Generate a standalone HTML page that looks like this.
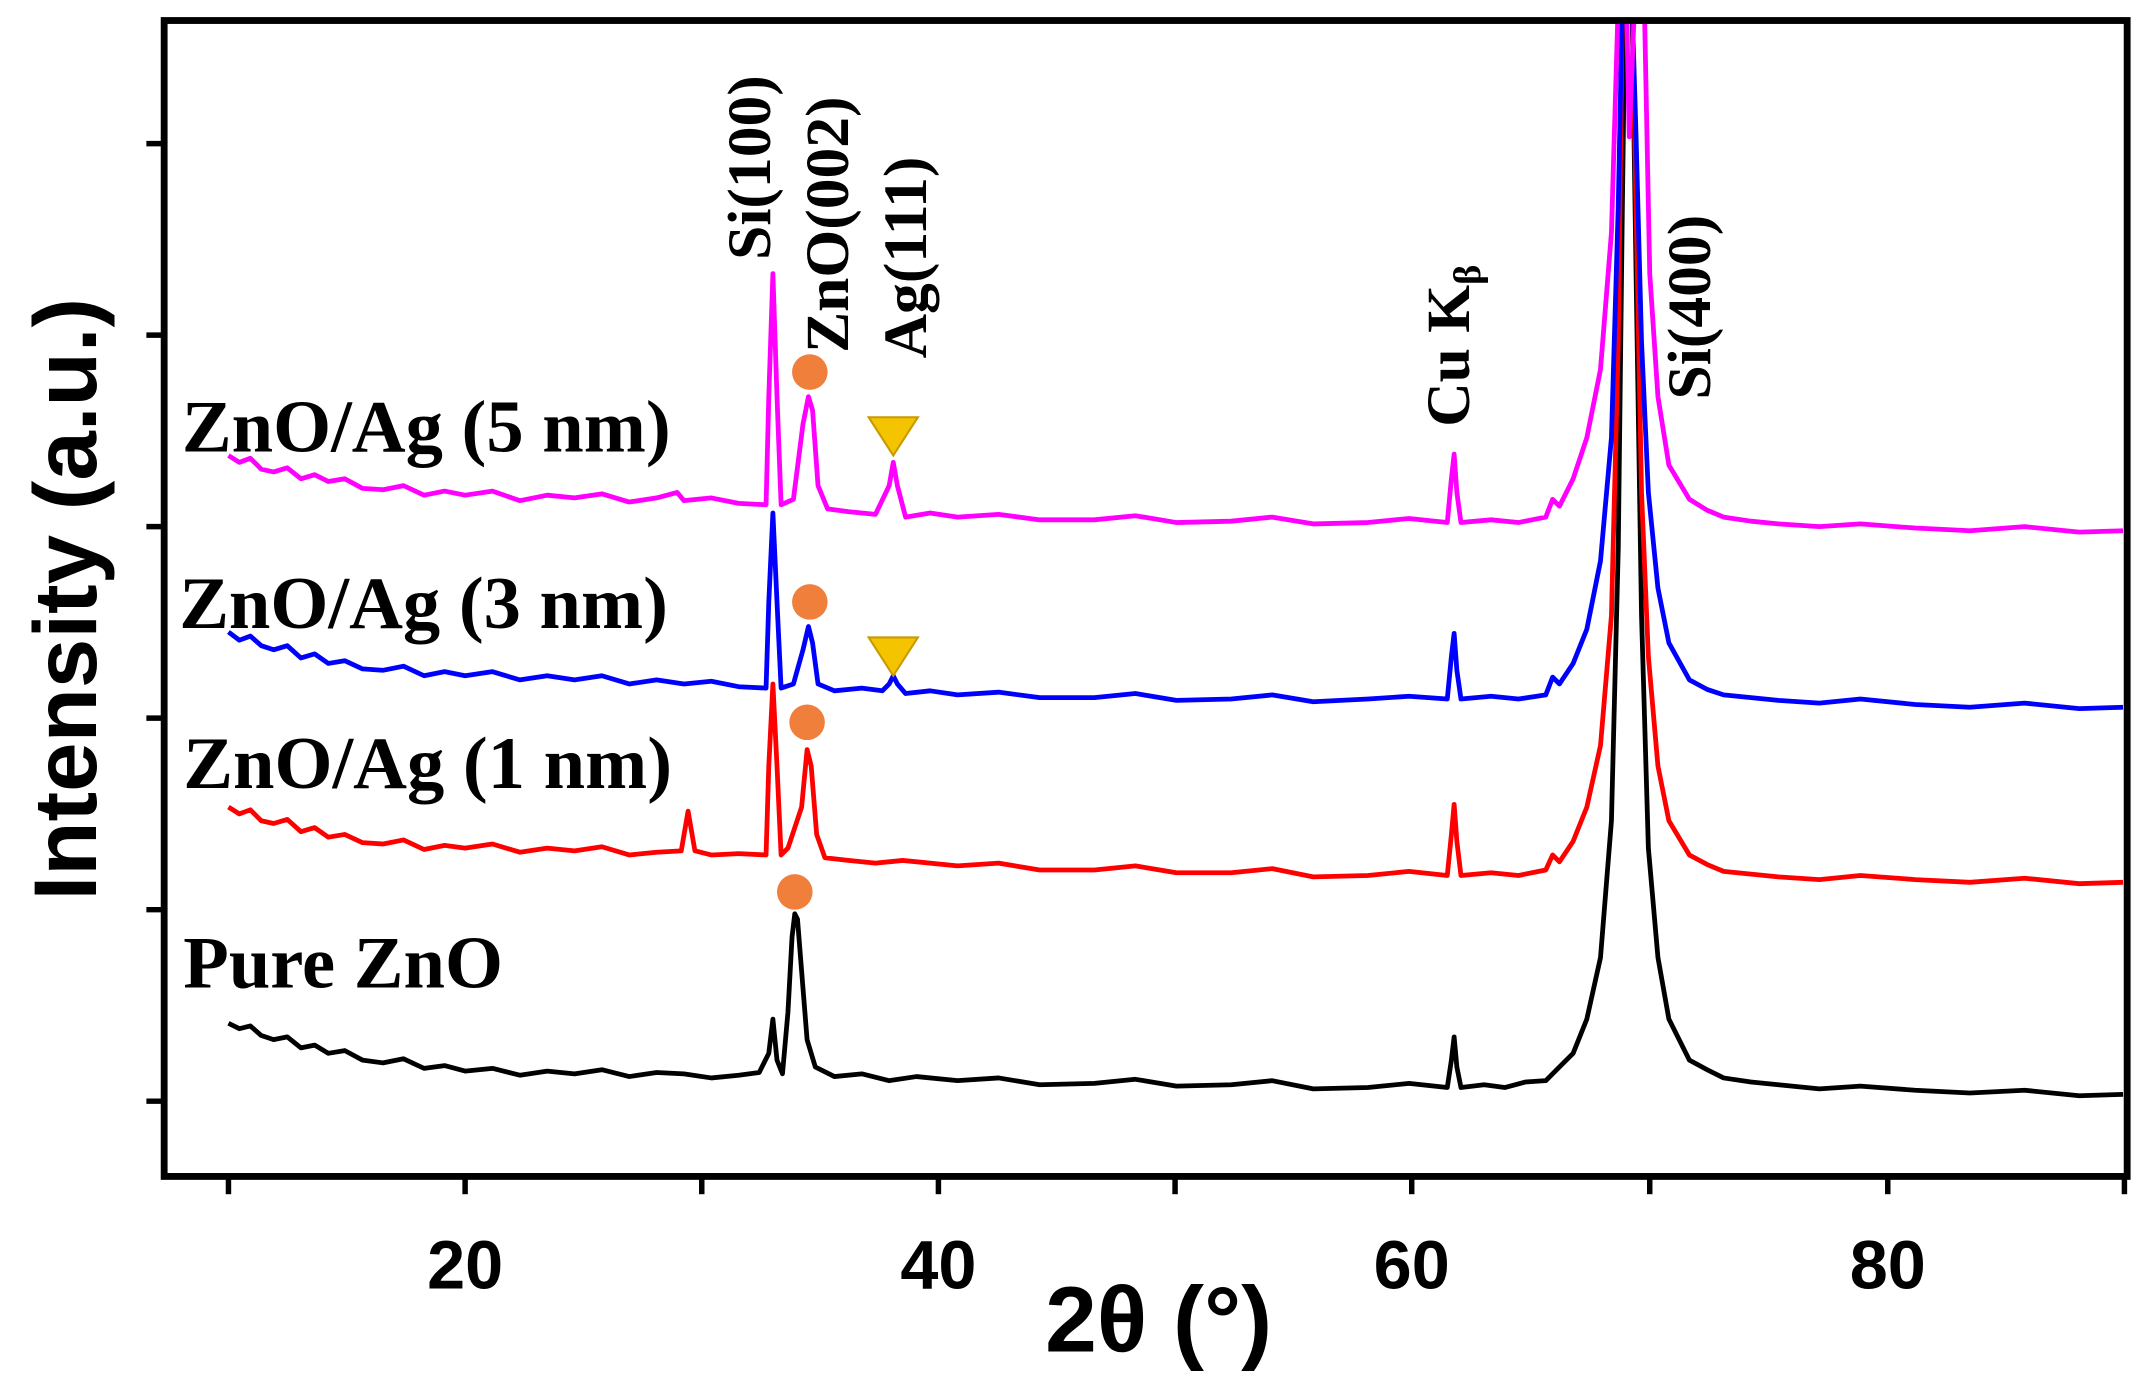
<!DOCTYPE html>
<html><head><meta charset="utf-8"><style>html,body{margin:0;padding:0;background:#fff}svg{display:block}</style></head>
<body>
<svg xmlns="http://www.w3.org/2000/svg" width="2134" height="1373" viewBox="0 0 1560 1003.7" font-family="Liberation Serif, serif" font-weight="bold">
<defs><clipPath id="c"><rect x="120" y="15" width="1435" height="845"/></clipPath></defs>
<g clip-path="url(#c)" fill="none" stroke-width="3.5" stroke-linejoin="round">
<path stroke="#000" d="M167 748 L175 752 183 750 191 757 200 760 210 758 220 766 230 764 240 770 252 768 265 775 280 777 295 774 310 781 325 779 340 783 360 781 380 786 400 783 420 785 440 782 460 787 480 784 500 785 520 788 540 786 555 784 562 770 565 745 568 775 572 785 576 740 579 685 581 668 583 672 586 710 590 760 596 780 610 787 630 785 650 790 670 787 700 790 730 788 760 793 800 792 830 789 860 794 900 793 930 790 960 796 1000 795 1030 792 1058 795 1061 775 1063 758 1065 780 1068 795 1085 793 1100 795 1115 791 1130 790 1140 780 1150 770 1160 745 1170 700 1178 600 1183 400 1186 150 1188 0 1193 0 1196 200 1200 450 1205 620 1212 700 1220 745 1235 775 1248 782 1260 788 1280 791 1300 793 1330 796 1360 794 1400 797 1440 799 1480 797 1520 801 1552 800"/>
<path stroke="#ff0000" d="M167 590 L175 595 183 592 191 600 200 602 210 599 220 608 230 605 240 612 252 610 265 616 280 617 295 614 310 621 325 618 340 620 360 617 380 623 400 620 420 622 440 619 460 625 480 623 498 622 503 593 508 622 520 625 540 624 560 625 562 560 565 500 568 560 571 625 576 620 586 590 590 548 593 560 597 610 603 627 620 629 640 631 660 629 700 633 730 631 760 636 800 636 830 633 860 638 900 638 930 635 960 641 1000 640 1030 637 1058 640 1061 610 1063 588 1065 615 1068 640 1090 638 1110 640 1130 636 1135 625 1140 630 1150 615 1160 590 1170 545 1178 450 1183 250 1186 0 1193 0 1196 150 1200 360 1205 480 1212 560 1220 600 1235 625 1248 632 1260 637 1280 639 1300 641 1330 643 1360 640 1400 643 1440 645 1480 642 1520 646 1552 645"/>
<path stroke="#0000ff" d="M167 462 L175 468 183 465 191 472 200 475 210 472 220 481 230 478 240 485 252 483 265 489 280 490 295 487 310 494 325 491 340 494 360 491 380 497 400 494 420 497 440 494 460 500 480 497 500 500 520 498 540 502 560 503 562 440 565 375 568 440 571 503 580 500 587 475 591 458 594 470 598 500 610 505 630 503 645 505 650 500 653 494 656 500 662 507 680 505 700 508 730 506 760 510 800 510 830 507 860 512 900 511 930 508 960 513 1000 511 1030 509 1058 511 1061 480 1063 463 1065 490 1068 511 1090 509 1110 511 1130 508 1135 495 1140 500 1150 485 1160 460 1170 410 1178 320 1183 150 1186 0 1193 0 1196 100 1200 250 1205 360 1212 430 1220 470 1235 497 1248 504 1260 508 1280 510 1300 512 1330 514 1360 511 1400 515 1440 517 1480 514 1520 518 1552 517"/>
<path stroke="#ff00ff" d="M167 333 L175 338 183 335 191 343 200 345 210 342 220 350 230 347 240 352 252 350 265 357 280 358 295 355 310 362 325 359 340 362 360 359 380 366 400 362 420 364 440 361 460 367 480 364 495 360 500 366 520 364 540 368 560 369 562 290 565 200 568 290 571 369 580 365 587 310 591 290 594 300 598 355 605 372 620 374 640 376 650 355 653 338 656 355 662 378 680 375 700 378 730 376 760 380 800 380 830 377 860 382 900 381 930 378 960 383 1000 382 1030 379 1058 382 1061 350 1063 332 1065 360 1068 382 1090 380 1110 382 1130 378 1135 365 1140 370 1150 350 1160 320 1170 270 1178 170 1183 0 1189 0 1191 100 1195 0 1202 0 1206 200 1212 290 1220 340 1235 365 1248 373 1260 378 1280 381 1300 383 1330 385 1360 383 1400 386 1440 388 1480 385 1520 389 1552 388"/>
</g>
<rect x="120" y="15" width="1435" height="845" fill="none" stroke="#000" stroke-width="5"/>
<g stroke="#000" stroke-width="4">
<line x1="107" y1="105" x2="120" y2="105"/><line x1="107" y1="245" x2="120" y2="245"/><line x1="107" y1="385" x2="120" y2="385"/><line x1="107" y1="525" x2="120" y2="525"/><line x1="107" y1="665" x2="120" y2="665"/><line x1="107" y1="805" x2="120" y2="805"/>
<line x1="167" y1="860" x2="167" y2="873"/><line x1="340" y1="860" x2="340" y2="873"/><line x1="513" y1="860" x2="513" y2="873"/><line x1="686" y1="860" x2="686" y2="873"/><line x1="859" y1="860" x2="859" y2="873"/><line x1="1032" y1="860" x2="1032" y2="873"/><line x1="1206" y1="860" x2="1206" y2="873"/><line x1="1380" y1="860" x2="1380" y2="873"/><line x1="1553" y1="860" x2="1553" y2="873"/>
</g>
<g font-family="Liberation Sans, sans-serif" font-size="50" text-anchor="middle">
<text x="340" y="942">20</text><text x="686" y="942">40</text><text x="1032" y="942">60</text><text x="1380" y="942">80</text>
</g>
<text x="847" y="988" font-family="Liberation Sans, sans-serif" font-size="68" text-anchor="middle">2θ (°)</text>
<text transform="translate(70,438) rotate(-90)" font-family="Liberation Sans, sans-serif" font-size="65" text-anchor="middle">Intensity (a.u.)</text>
<g font-size="54.5">
<text x="133" y="330">ZnO/Ag (5 nm)</text>
<text x="131" y="459">ZnO/Ag (3 nm)</text>
<text x="134" y="576">ZnO/Ag (1 nm)</text>
<text x="134" y="722">Pure ZnO</text>
</g>
<g font-size="45">
<text transform="translate(563,190) rotate(-90)">Si(100)</text>
<text transform="translate(620,258) rotate(-90)">ZnO(002)</text>
<text transform="translate(677,262) rotate(-90)">Ag(111)</text>
<text transform="translate(1074,312) rotate(-90)">Cu K<tspan font-size="28" dy="8">β</tspan></text>
<text transform="translate(1250,292) rotate(-90)">Si(400)</text>
</g>
<g fill="#f07f3c"><circle cx="592" cy="272" r="13"/><circle cx="592" cy="440" r="13"/><circle cx="590" cy="528" r="13"/><circle cx="581" cy="652" r="13"/></g>
<g fill="#f5c400" stroke="#c89a00" stroke-width="1.5"><polygon points="635,305 671,305 653,333"/><polygon points="635,466 671,466 653,494"/></g>
</svg>
</body></html>
